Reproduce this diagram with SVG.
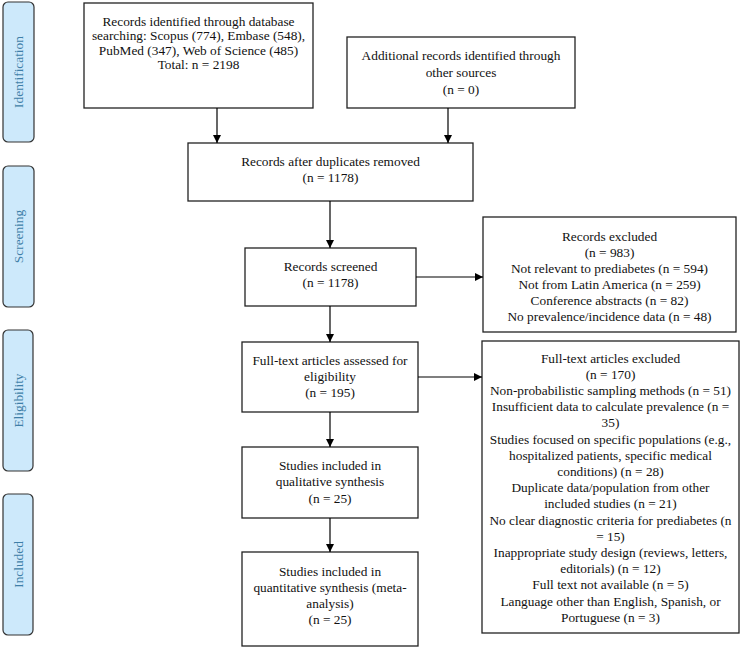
<svg xmlns="http://www.w3.org/2000/svg" width="743" height="649" viewBox="0 0 743 649">
<defs>
<marker id="ah" viewBox="0 0 10 10" refX="10" refY="5" markerWidth="8" markerHeight="8" markerUnits="userSpaceOnUse" orient="auto">
<path d="M0,0 L10,5 L0,10 Z" fill="#000"/>
</marker>
<style>
.box{fill:#fff;stroke:#222;stroke-width:1.3}
.phase{fill:#cde9fb;stroke:#333;stroke-width:1.2}
.t{font-size:13.33px;fill:#111;text-anchor:middle}
.pt{font-size:13.33px;fill:#3f7fa8;text-anchor:middle}
.c{stroke:#000;stroke-width:1.2;fill:none;marker-end:url(#ah)}
</style>
</defs>
<rect width="743" height="649" fill="#fff"/>
<g font-family="'Liberation Serif', 'Times New Roman', Times, serif">
<g id="phase-identification"><rect class="phase" x="3" y="2" width="31" height="140" rx="5"/><text class="pt" transform="translate(23,72) rotate(-90)">Identification</text></g>
<g id="phase-screening"><rect class="phase" x="3" y="166" width="31" height="141" rx="5"/><text class="pt" transform="translate(23,236.5) rotate(-90)">Screening</text></g>
<g id="phase-eligibility"><rect class="phase" x="3" y="330" width="30" height="141" rx="5"/><text class="pt" transform="translate(22.5,400.5) rotate(-90)">Eligibility</text></g>
<g id="phase-included"><rect class="phase" x="3" y="494" width="30" height="141" rx="5"/><text class="pt" transform="translate(22.5,564.5) rotate(-90)">Included</text></g>

<g id="n-database"><rect class="box" x="84" y="3" width="229" height="105"/>
<text class="t" x="198.5" y="25.5">Records identified through database</text>
<text class="t" x="198.5" y="40">searching: Scopus (774), Embase (548),</text>
<text class="t" x="198.5" y="54.5">PubMed (347), Web of Science (485)</text>
<text class="t" x="198.5" y="69">Total: n = 2198</text></g>

<g id="n-additional"><rect class="box" x="347" y="37" width="228" height="71"/>
<text class="t" x="461" y="59.5">Additional records identified through</text>
<text class="t" x="461" y="76.5">other sources</text>
<text class="t" x="461" y="93.5">(n = 0)</text></g>

<g id="n-dedup"><rect class="box" x="188" y="143" width="285" height="58"/>
<text class="t" x="330.5" y="165.5">Records after duplicates removed</text>
<text class="t" x="330.5" y="182">(n = 1178)</text></g>

<g id="n-screened"><rect class="box" x="245" y="248" width="171" height="58"/>
<text class="t" x="330.5" y="270.5">Records screened</text>
<text class="t" x="330.5" y="287">(n = 1178)</text></g>

<g id="n-excluded"><rect class="box" x="483" y="217" width="253" height="115"/>
<text class="t" x="609.5" y="240.5">Records excluded</text>
<text class="t" x="609.5" y="256.5">(n = 983)</text>
<text class="t" x="609.5" y="272.5">Not relevant to prediabetes (n = 594)</text>
<text class="t" x="609.5" y="288.5">Not from Latin America (n = 259)</text>
<text class="t" x="609.5" y="304.5">Conference abstracts (n = 82)</text>
<text class="t" x="609.5" y="320.5">No prevalence/incidence data (n = 48)</text></g>

<g id="n-fulltext"><rect class="box" x="242" y="342" width="176" height="70"/>
<text class="t" x="330" y="364.5">Full-text articles assessed for</text>
<text class="t" x="330" y="380.5">eligibility</text>
<text class="t" x="330" y="396.5">(n = 195)</text></g>

<g id="n-qualitative"><rect class="box" x="242" y="447" width="176" height="71"/>
<text class="t" x="330" y="469.5">Studies included in</text>
<text class="t" x="330" y="486">qualitative synthesis</text>
<text class="t" x="330" y="502.5">(n = 25)</text></g>

<g id="n-quantitative"><rect class="box" x="242" y="552" width="176" height="94"/>
<text class="t" x="330" y="575.5">Studies included in</text>
<text class="t" x="330" y="592">quantitative synthesis (meta-</text>
<text class="t" x="330" y="608">analysis)</text>
<text class="t" x="330" y="624">(n = 25)</text></g>

<g id="n-ftexcluded"><rect class="box" x="482" y="341" width="257" height="292"/>
<text class="t" x="610.5" y="362.5">Full-text articles excluded</text>
<text class="t" x="610.5" y="378.7">(n = 170)</text>
<text class="t" x="610.5" y="394.9">Non-probabilistic sampling methods (n = 51)</text>
<text class="t" x="610.5" y="411.1">Insufficient data to calculate prevalence (n =</text>
<text class="t" x="610.5" y="427.3">35)</text>
<text class="t" x="610.5" y="443.5">Studies focused on specific populations (e.g.,</text>
<text class="t" x="610.5" y="459.7">hospitalized patients, specific medical</text>
<text class="t" x="610.5" y="475.9">conditions) (n = 28)</text>
<text class="t" x="610.5" y="492.1">Duplicate data/population from other</text>
<text class="t" x="610.5" y="508.3">included studies (n = 21)</text>
<text class="t" x="610.5" y="524.5">No clear diagnostic criteria for prediabetes (n</text>
<text class="t" x="610.5" y="540.7">= 15)</text>
<text class="t" x="610.5" y="556.9">Inappropriate study design (reviews, letters,</text>
<text class="t" x="610.5" y="573.1">editorials) (n = 12)</text>
<text class="t" x="610.5" y="589.3">Full text not available (n = 5)</text>
<text class="t" x="610.5" y="605.5">Language other than English, Spanish, or</text>
<text class="t" x="610.5" y="621.7">Portuguese (n = 3)</text></g>
</g>

<g id="connectors">
<line class="c" x1="217" y1="108" x2="217" y2="143"/>
<line class="c" x1="448" y1="108" x2="448" y2="143"/>
<line class="c" x1="330" y1="201" x2="330" y2="248"/>
<line class="c" x1="416" y1="277" x2="483" y2="277"/>
<line class="c" x1="330" y1="306" x2="330" y2="342"/>
<line class="c" x1="418" y1="377" x2="482" y2="377"/>
<line class="c" x1="330" y1="412" x2="330" y2="447"/>
<line class="c" x1="330" y1="518" x2="330" y2="552"/>
</g>
</svg>
